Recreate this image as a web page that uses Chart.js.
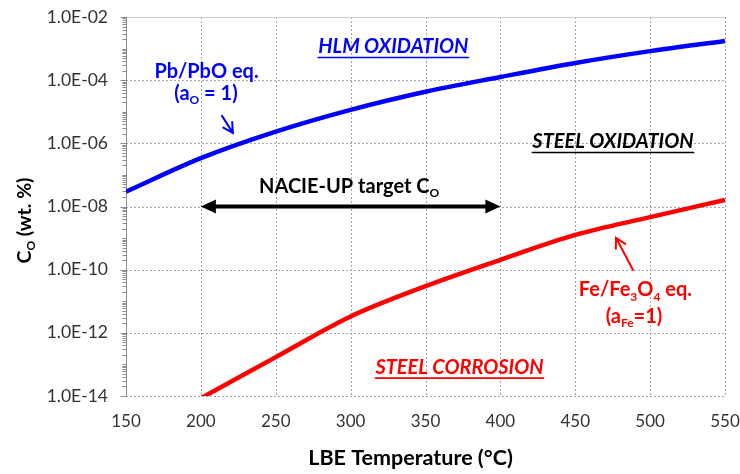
<!DOCTYPE html>
<html>
<head>
<meta charset="utf-8">
<script src="https://cdn.jsdelivr.net/npm/chart.js@4/dist/chart.umd.min.js"></script>
<style>
  html, body { margin: 0; padding: 0; background: #fff; }
  #wrap { width: 740px; height: 474px; }
</style>
</head>
<body>
<div id="wrap"><canvas id="c" width="740" height="474"></canvas></div>
<script>
// LBE temperature grid (°C)
const temperatures = [150, 200, 250, 300, 350, 400, 450, 500, 550];
// Oxygen concentration in equilibrium with Pb/PbO (a_O = 1), wt.%
const pbPbOEq = [2.95e-8, 3.4e-7, 2.35e-6, 1.15e-5, 4.3e-5, 1.26e-4, 3.5e-4, 8.3e-4, 1.74e-3];
// Oxygen concentration in equilibrium with Fe/Fe3O4 (a_Fe = 1), wt.%
const feTemperatures = [200, 250, 300, 350, 400, 450, 500, 550];
const feFe3O4Eq = [8.5e-15, 1.7e-13, 3.3e-12, 3.0e-11, 2.05e-10, 1.26e-9, 4.6e-9, 1.62e-8];
// Axis ticks
const xTicks = [150, 200, 250, 300, 350, 400, 450, 500, 550];
const yTicks = [1e-14, 1e-12, 1e-10, 1e-8, 1e-6, 1e-4, 1e-2];
// NACIE-UP target oxygen window
const targetTemps = [200, 400];
const targetLevel = 1e-8;

const FONT = 'Lato, "Open Sans", sans-serif';
const BLUE = '#0000ff';
const RED = '#ff0000';
const GRID = '#a6a6a6';
const AXIS = '#8c8c8c';

// Labels placed in data space: [x (°C), C_O (wt.%)] for centre / baseline
const labels = [
  { parts: [{ t: 'HLM OXIDATION' }], at: [328.5, 10 ** -3.14], color: BLUE, italic: true, underline: true },
  { parts: [{ t: 'STEEL OXIDATION' }], at: [475.2, 10 ** -6.15], color: '#000', italic: true, underline: true },
  { parts: [{ t: 'STEEL CORROSION' }], at: [372.7, 10 ** -13.29], color: RED, italic: true, underline: true },
  { parts: [{ t: 'Pb/PbO eq.' }], at: [203.8, 10 ** -3.93], color: BLUE },
  { parts: [{ t: '(a' }, { t: 'O', sub: true }, { t: ' = 1)' }], at: [203.4, 10 ** -4.63], color: BLUE },
  { parts: [{ t: 'NACIE-UP target C' }, { t: 'O', sub: true }], at: [299, 10 ** -7.57], color: '#000' },
  { parts: [{ t: 'Fe/Fe' }, { t: '3', sub: true }, { t: 'O' }, { t: '4', sub: true }, { t: ' eq.' }], at: [490.2, 10 ** -10.84], color: RED },
  { parts: [{ t: '(a' }, { t: 'Fe', sub: true }, { t: '=1)' }], at: [489.2, 10 ** -11.68], color: RED }
];
// Pointer arrows: tail -> head, in data space
const pointers = [
  { from: [214.1, 10 ** -5.13], to: [221.4, 10 ** -5.67], color: BLUE },
  { from: [488.6, 10 ** -10.01], to: [477.2, 10 ** -8.99], color: RED }
];

function drawRich(ctx, parts, cx, y, size, color, italic, underline) {
  const base = (italic ? 'italic ' : '') + 'bold ';
  const subSize = Math.round(size * 0.62);
  let total = 0;
  const widths = parts.map(p => {
    ctx.font = base + (p.sub ? subSize : size) + 'px ' + FONT;
    const w = ctx.measureText(p.t).width;
    total += w;
    return w;
  });
  let x = cx - total / 2;
  ctx.fillStyle = color;
  ctx.textBaseline = 'alphabetic';
  ctx.textAlign = 'left';
  parts.forEach((p, i) => {
    ctx.font = base + (p.sub ? subSize : size) + 'px ' + FONT;
    ctx.fillText(p.t, x, p.sub ? y + size * 0.22 : y);
    x += widths[i];
  });
  if (underline) {
    ctx.strokeStyle = color;
    ctx.lineWidth = 1.6;
    ctx.beginPath();
    ctx.moveTo(cx - total / 2, y + 4.5);
    ctx.lineTo(cx + total / 2, y + 4.5);
    ctx.stroke();
  }
}

function openArrow(ctx, x1, y1, x2, y2, color) {
  const ang = Math.atan2(y2 - y1, x2 - x1);
  const len = 11, spread = 0.5;
  ctx.strokeStyle = color;
  ctx.lineWidth = 2;
  ctx.lineCap = 'round';
  ctx.beginPath();
  ctx.moveTo(x1, y1);
  ctx.lineTo(x2, y2);
  ctx.moveTo(x2 - len * Math.cos(ang - spread), y2 - len * Math.sin(ang - spread));
  ctx.lineTo(x2, y2);
  ctx.lineTo(x2 - len * Math.cos(ang + spread), y2 - len * Math.sin(ang + spread));
  ctx.stroke();
}

const overlay = {
  id: 'overlay',
  beforeDatasetsDraw(chart) {
    const { ctx, chartArea: a } = chart;
    const xs = chart.scales.x, ys = chart.scales.y;
    ctx.save();
    ctx.lineWidth = 1;
    // dotted grid
    ctx.strokeStyle = GRID;
    ctx.setLineDash([2, 2]);
    ctx.beginPath();
    xTicks.forEach(v => {
      const px = Math.round(xs.getPixelForValue(v)) + 0.5;
      ctx.moveTo(px, a.top);
      ctx.lineTo(px, a.bottom);
    });
    yTicks.forEach(v => {
      const py = Math.round(ys.getPixelForValue(v)) + 0.5;
      ctx.moveTo(a.left, py);
      ctx.lineTo(a.right, py);
    });
    ctx.stroke();
    ctx.setLineDash([]);
    // plot frame top edge
    ctx.strokeStyle = '#c8c8c8';
    ctx.beginPath();
    ctx.moveTo(a.left, Math.round(a.top) + 0.5);
    ctx.lineTo(a.right, Math.round(a.top) + 0.5);
    ctx.stroke();
    // value axis line with major and minor log ticks
    const ax = Math.round(a.left) + 0.5;
    ctx.strokeStyle = AXIS;
    ctx.beginPath();
    ctx.moveTo(ax, a.top);
    ctx.lineTo(ax, a.bottom);
    for (let d = -14; d <= -2; d++) {
      for (let m = 1; m < 10; m++) {
        if (d === -2 && m > 1) break;
        const major = m === 1 && d % 2 === 0;
        const py = Math.round(ys.getPixelForValue(m * Math.pow(10, d))) + 0.5;
        ctx.moveTo(ax - (major ? 6 : 4), py);
        ctx.lineTo(ax, py);
      }
    }
    ctx.stroke();
    ctx.restore();
  },
  afterDatasetsDraw(chart) {
    const { ctx } = chart;
    const xs = chart.scales.x, ys = chart.scales.y;
    ctx.save();
    // NACIE-UP target double arrow
    const xa = xs.getPixelForValue(targetTemps[0]);
    const xb = xs.getPixelForValue(targetTemps[1]);
    const yy = ys.getPixelForValue(targetLevel);
    const hl = 15, hw = 7;
    ctx.strokeStyle = '#000';
    ctx.fillStyle = '#000';
    ctx.lineWidth = 4;
    ctx.beginPath();
    ctx.moveTo(xa + hl - 1, yy);
    ctx.lineTo(xb - hl + 1, yy);
    ctx.stroke();
    ctx.beginPath();
    ctx.moveTo(xa, yy); ctx.lineTo(xa + hl, yy - hw); ctx.lineTo(xa + hl, yy + hw); ctx.closePath();
    ctx.fill();
    ctx.beginPath();
    ctx.moveTo(xb, yy); ctx.lineTo(xb - hl, yy - hw); ctx.lineTo(xb - hl, yy + hw); ctx.closePath();
    ctx.fill();
    // pointer arrows
    pointers.forEach(p => {
      openArrow(ctx,
        xs.getPixelForValue(p.from[0]), ys.getPixelForValue(p.from[1]),
        xs.getPixelForValue(p.to[0]), ys.getPixelForValue(p.to[1]), p.color);
    });
    // region and curve labels
    labels.forEach(l => {
      drawRich(ctx, l.parts, xs.getPixelForValue(l.at[0]), ys.getPixelForValue(l.at[1]),
        20, l.color, !!l.italic, !!l.underline);
    });
    ctx.restore();
  },
  afterDraw(chart) {
    const { ctx, chartArea: a } = chart;
    ctx.save();
    // x axis title
    ctx.font = 'bold 21.5px ' + FONT;
    ctx.fillStyle = '#000';
    ctx.textAlign = 'center';
    ctx.textBaseline = 'alphabetic';
    ctx.fillText('LBE Temperature (°C)', a.left + (a.right - a.left) * 0.475, 465);
    // y axis title, rotated
    ctx.translate(31, (a.top + a.bottom) / 2 + 14);
    ctx.rotate(-Math.PI / 2);
    drawRich(ctx, [{ t: 'C' }, { t: 'O', sub: true }, { t: ' (wt. %)' }], 0, 0, 19.5, '#000', false, false);
    ctx.restore();
  }
};

new Chart(document.getElementById('c'), {
  type: 'line',
  data: {
    datasets: [
      {
        label: 'Pb/PbO eq.',
        data: temperatures.map((t, i) => ({ x: t, y: pbPbOEq[i] })),
        borderColor: BLUE,
        borderWidth: 4.5,
        pointRadius: 0,
        cubicInterpolationMode: 'monotone',
        fill: false
      },
      {
        label: 'Fe/Fe3O4 eq.',
        data: feTemperatures.map((t, i) => ({ x: t, y: feFe3O4Eq[i] })),
        borderColor: RED,
        borderWidth: 4.5,
        pointRadius: 0,
        cubicInterpolationMode: 'monotone',
        fill: false
      }
    ]
  },
  options: {
    responsive: false,
    animation: false,
    devicePixelRatio: 1,
    layout: { padding: { left: 0, right: 15, top: 17, bottom: 0 } },
    plugins: { legend: { display: false }, tooltip: { enabled: false } },
    scales: {
      x: {
        type: 'linear',
        min: 150,
        max: 550,
        afterBuildTicks: s => { s.ticks = xTicks.map(v => ({ value: v })); },
        afterFit: s => { s.height = 78; s.paddingLeft = 0; s.paddingRight = 0; },
        grid: { display: false },
        border: { display: false },
        ticks: { color: '#333', font: { family: FONT, size: 17 }, padding: 7, maxRotation: 0 }
      },
      y: {
        type: 'logarithmic',
        min: 1e-14,
        max: 1e-2,
        afterBuildTicks: s => { s.ticks = yTicks.map(v => ({ value: v })); },
        afterFit: s => { s.width = 126; s.paddingTop = 0; s.paddingBottom = 0; },
        grid: { display: false },
        border: { display: false },
        ticks: {
          color: '#333',
          font: { family: FONT, size: 17.5 },
          padding: 10,
          callback: v => {
            const e = Math.round(Math.log10(v));
            return '1.0E' + (e < 0 ? '-' : '+') + String(Math.abs(e)).padStart(2, '0');
          }
        }
      }
    }
  },
  plugins: [overlay]
});
</script>
</body>
</html>
